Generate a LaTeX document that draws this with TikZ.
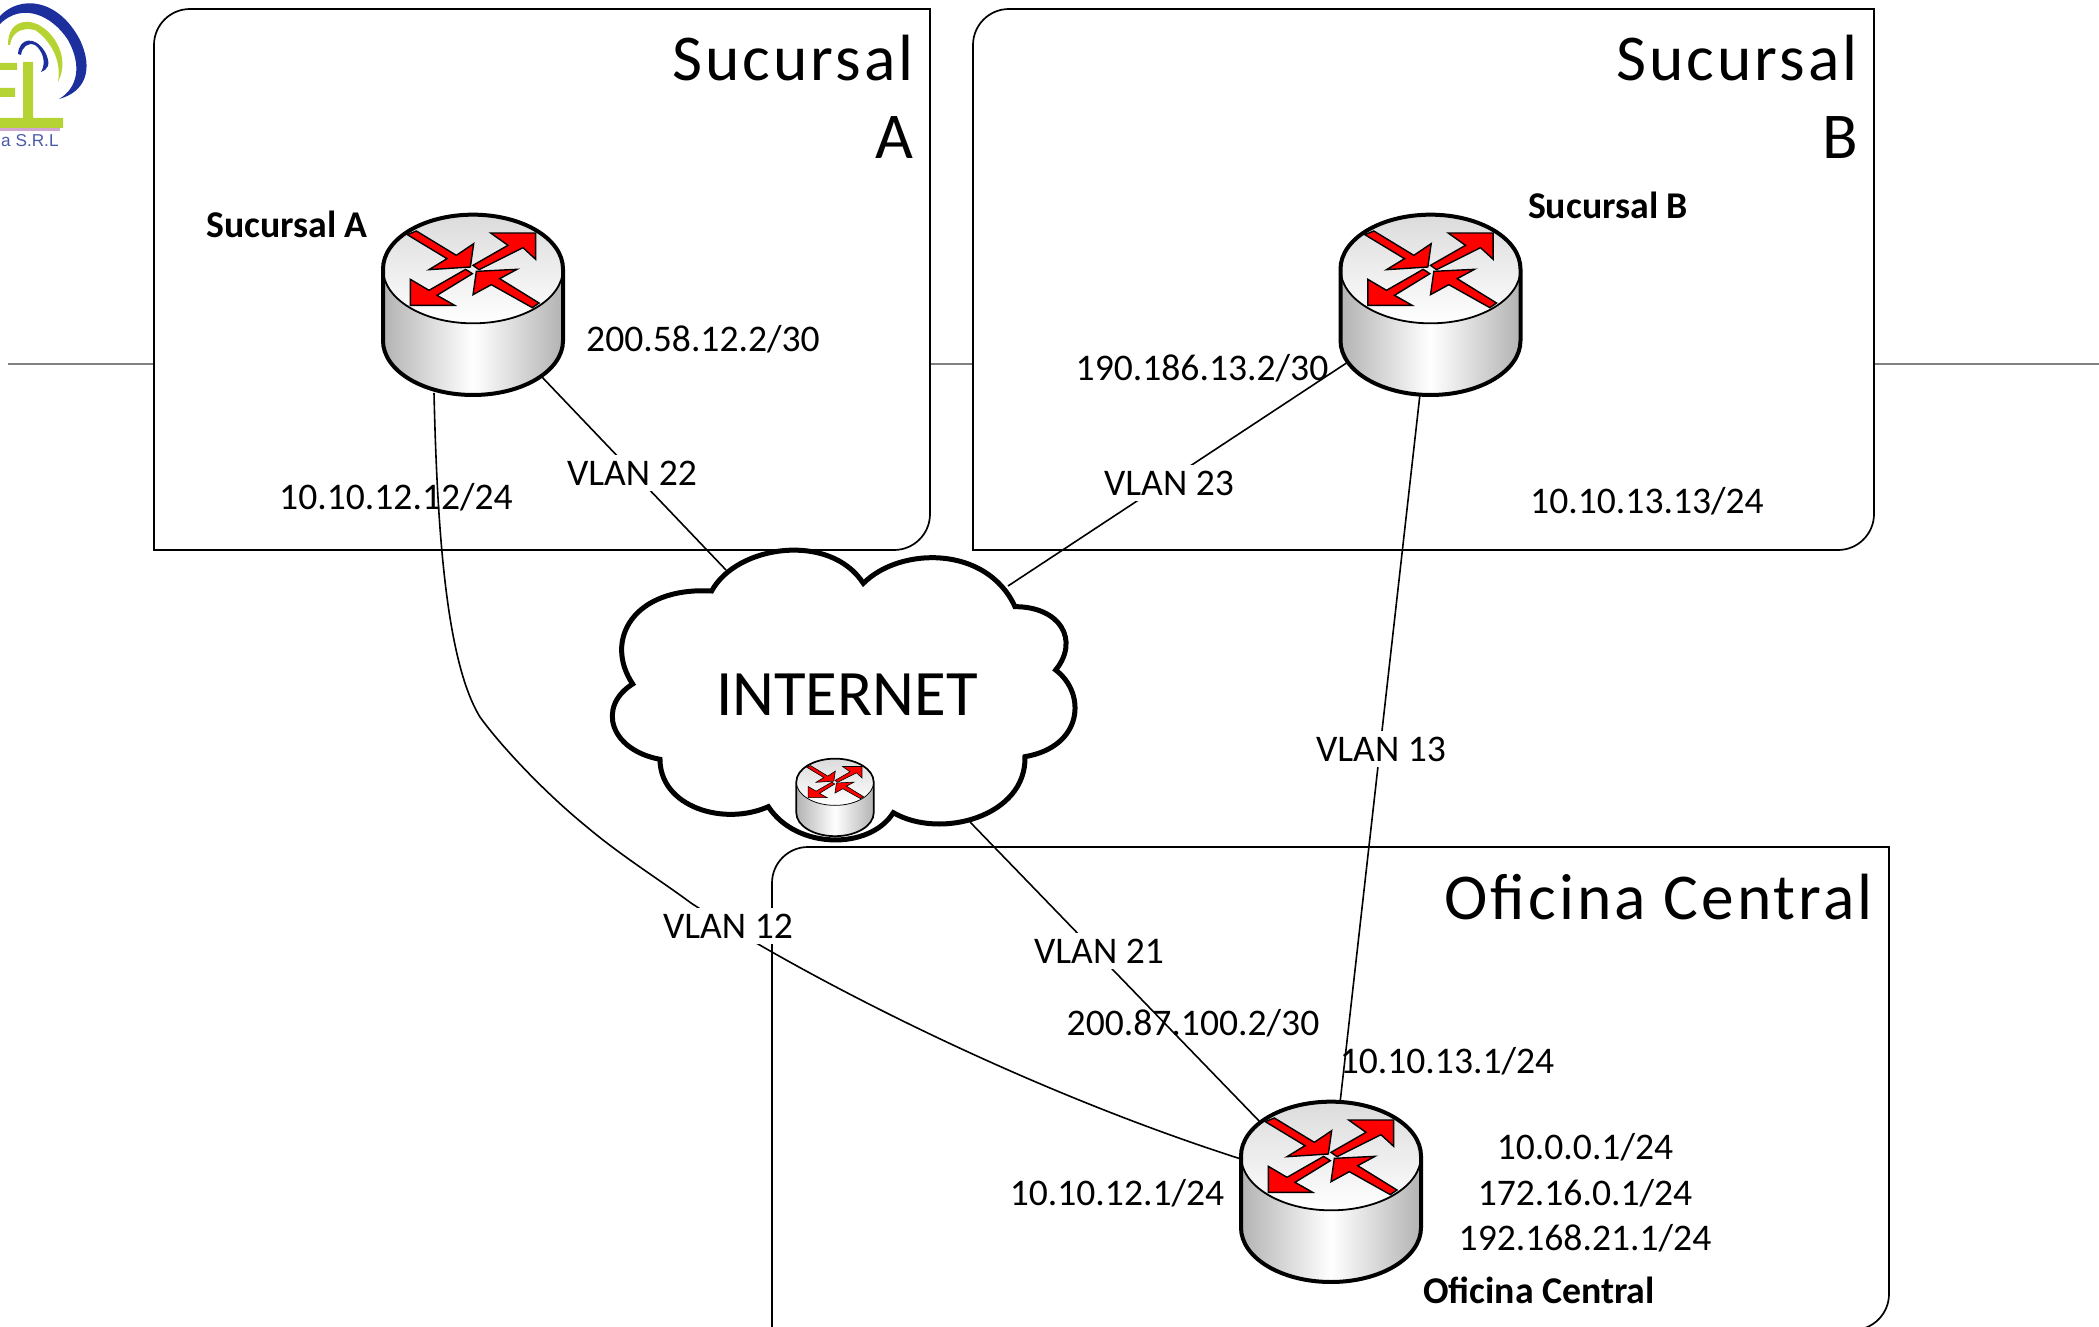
\documentclass[tikz,border=0pt]{standalone}
\usepackage{fontspec}
\setmainfont{Carlito}
\newfontfamily\logofont{Liberation Sans}
\newfontfamily\titlefont[LetterSpace=4.6]{Carlito}
\definecolor{logoblue}{HTML}{1C2F9C}
\definecolor{logogreen}{HTML}{B5D333}
\definecolor{logotextcol}{HTML}{4A5AA8}
\tikzset{
 x=0.5pt,y=-0.5pt,
 boxframe/.style={draw=black,line width=0.85pt,fill=white},
 link/.style={draw=black,line width=0.8pt},
 lab/.style={font=\fontsize{18.8}{22}\selectfont,inner sep=0pt,anchor=base},
 blab/.style={font=\fontsize{18.9}{22}\selectfont\bfseries,inner sep=0pt,anchor=base},
 title/.style={font=\titlefont\fontsize{32.7}{39}\selectfont,inner sep=0pt,anchor=base east},
 vlan/.style={lab,fill=white,inner sep=3pt,anchor=center},
}
\newcommand{\routerdraw}[4]{% x y scale name
 \begin{scope}[shift={(#1,#2)},x=#3*0.5pt/3,y=-#3*0.5pt/3]
  \coordinate (#4) at (0,100);
  \shade[left color=black!30,right color=black!30,middle color=white]
    (-270,0) -- (-270,215) arc[start angle=180,end angle=360,x radius=270,y radius=-163] -- (270,0) -- cycle;
  \shade[top color=black!14,bottom color=white] (0,0) ellipse[x radius=270,y radius=163];
  \draw[line width=#3*2pt] (0,0) ++(-270,0) arc[start angle=180,end angle=0,x radius=270,y radius=-163]
    -- (270,215) arc[start angle=360,end angle=180,x radius=270,y radius=-163] -- cycle;
  \draw[line width=#3*0.9pt] (-270,0) arc[start angle=180,end angle=360,x radius=270,y radius=-163];
  \begin{scope}[shift={(-340,-236)},fill=red,draw=black,line width=#3*0.7pt,line join=miter]
   \filldraw (143,133)--(170,122)--(290,195)--(342,160)--(332,230)--(208,238)--(262,205)--cycle;
   \filldraw (393,128)--(528,128)--(528,207)--(490,172)--(358,238)--(340,225)--(445,165)--cycle;
   \filldraw (152,267)--(208,300)--(318,237)--(338,250)--(232,315)--(285,345)--(152,345)--cycle;
   \filldraw (350,243)--(472,237)--(420,265)--(538,338)--(518,352)--(395,283)--(340,313)--cycle;
  \end{scope}
 \end{scope}}
\begin{document}
\begin{tikzpicture}
\useasboundingbox (0,0) rectangle (2099,1327);
\clip (0,0) rectangle (2099,1327);
% separator
\coordinate (ruleL) at (8,364); \coordinate (ruleR) at (2099,364);
\draw[black!50,line width=0.6pt] (ruleL) -- (ruleR);
% logo
\begin{scope}
 \fill[logoblue] (0,16) .. controls (20,-5) and (58,-2) .. (80,40) .. controls (94,70) and (85,92) .. (59,99) .. controls (78,88) and (82,65) .. (68,40) .. controls (52,15) and (22,2) .. (0,24) -- cycle;
 \fill[logogreen] (8,45) .. controls (8,25) and (20,21) .. (30,22) .. controls (50,25) and (72,55) .. (58,82) .. controls (62,60) and (50,40) .. (35,30) .. controls (22,27) and (12,32) .. (10,45) -- cycle;
 \fill[logoblue] (18,54) .. controls (19,38) and (35,35) .. (45,52) .. controls (52,65) and (47,70) .. (41,72) .. controls (47,62) and (42,50) .. (35,45) .. controls (28,42) and (22,47) .. (21,55) -- cycle;
 \fill[logogreen] (0,63) rectangle (17,70) (0,88) rectangle (15,97) (23,62) rectangle (33,118) (0,118) -- (63,118) -- (63,128) -- (0,128) -- cycle;
 \fill[violet!35] (0,128.5) rectangle (60,131);
 \node[inner sep=0pt,anchor=base east,text=logotextcol,font=\logofont\fontsize{8.6}{10}\selectfont] (logotext) at (59,147) {a S.R.L};
\end{scope}
% boxes
\draw[boxframe] (154,550) -- (154,45) arc[start angle=180,end angle=270,radius=36] -- (930,9) -- (930,514) arc[start angle=0,end angle=90,radius=36] -- cycle;
\draw[boxframe] (973,550) -- (973,45) arc[start angle=180,end angle=270,radius=36] -- (1874,9) -- (1874,514) arc[start angle=0,end angle=90,radius=36] -- cycle;
\draw[boxframe] (772,1330) -- (772,883) arc[start angle=180,end angle=270,radius=36] -- (1889,847) -- (1889,1294) arc[start angle=0,end angle=90,radius=36] -- cycle;
% titles
\node[title] (tA1) at (914,81) {Sucursal};
\node[title] (tA2) at (914,158) {A};
\node[title] (tB1) at (1858,81) {Sucursal};
\node[title] (tB2) at (1858,158) {B};
\node[title] (tC) at (1873,919) {Oficina Central};
% routers (coordinates for links)
\coordinate (rAbot) at (434,393); \coordinate (rAr) at (541,376);
\coordinate (rBl) at (1348,362); \coordinate (rBbot) at (1420,394);
\coordinate (rCa) at (1262,1124); \coordinate (rCb) at (1340,1103); \coordinate (rCc) at (1241,1159);
\coordinate (cloudA) at (726,570); \coordinate (cloudB) at (1008,586); \coordinate (cloudC) at (970,822);
% links
\draw[link] (rAr) -- (cloudA);
\draw[link] (rBl) -- (cloudB);
\draw[link] (rBbot) -- (rCb);
\draw[link] (cloudC) -- (rCa);
\draw[link] (rAbot) .. controls (437,520) and (445,660) .. (480,717) .. controls (500,745) and (545,793) .. (587,827) .. controls (620,855) and (660,880) .. (691,903) .. controls (790,968) and (1010,1085) .. (rCc);
% cloud
\begin{scope}[shift={(590,530)},x=0.5pt/3,y=-0.5pt/3]
 \draw[line width=2.5pt,fill=white,line join=miter] (365,183)
  .. controls (440,45) and (720,5) .. (820,160)
  .. controls (930,50) and (1190,45) .. (1275,230)
  .. controls (1410,230) and (1470,330) .. (1397,420)
  .. controls (1490,490) and (1480,650) .. (1305,680)
  .. controls (1310,860) and (1050,930) .. (910,848)
  .. controls (840,960) and (620,960) .. (535,830)
  .. controls (400,890) and (210,830) .. (210,688)
  .. controls (60,660) and (20,530) .. (128,462)
  .. controls (40,330) and (130,170) .. (365,183) -- cycle;
\end{scope}
\node[font=\fontsize{32.4}{39}\selectfont,inner sep=0pt,anchor=base] (inet) at (847,715) {INTERNET};
\routerdraw{473}{269}{1}{rA}
\routerdraw{1430.5}{269}{1}{rB}
\routerdraw{1331}{1156}{1}{rC}
\routerdraw{835}{782}{0.43}{rI}
% labels
\node[blab] (nA) at (287,237) {Sucursal A};
\node[blab] (nB) at (1608,218) {Sucursal B};
\node[blab] (nC) at (1539,1303) {Oficina Central};
\node[lab] (a1) at (703,351) {200.58.12.2/30};
\node[lab] (a2) at (396,509) {10.10.12.12/24};
\node[lab] (b1) at (1202,380) {190.186.13.2/30};
\node[lab] (b2) at (1647,513) {10.10.13.13/24};
\node[lab] (c1) at (1193,1035) {200.87.100.2/30};
\node[lab] (c2) at (1447,1073) {10.10.13.1/24};
\node[lab] (c3) at (1585,1159) {10.0.0.1/24};
\node[lab] (c4) at (1585,1205) {172.16.0.1/24};
\node[lab] (c5) at (1585,1250) {192.168.21.1/24};
\node[lab] (c6) at (1117,1205) {10.10.12.1/24};
\node[vlan] (v22) at (632,473) {VLAN 22};
\node[vlan] (v23) at (1169,483) {VLAN 23};
\node[vlan] (v13) at (1381,749) {VLAN 13};
\node[vlan] (v12) at (728,926) {VLAN 12};
\node[vlan] (v21) at (1099,951) {VLAN 21};
\end{tikzpicture}
\end{document}
